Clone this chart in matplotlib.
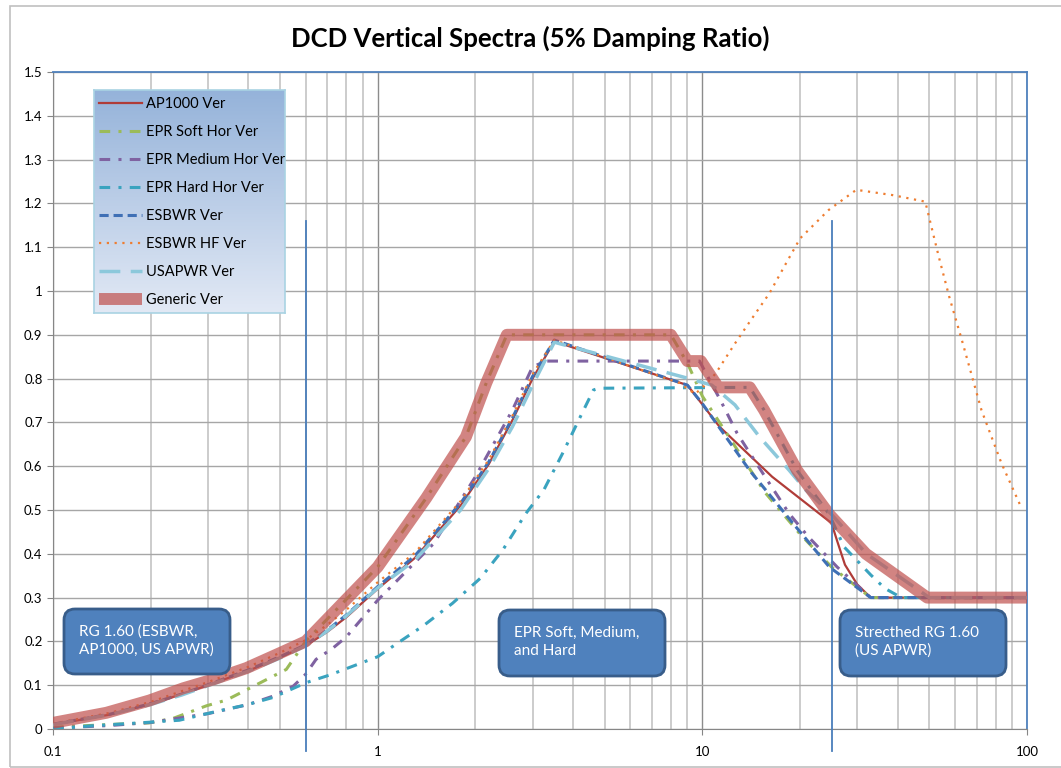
import numpy as np
import matplotlib
matplotlib.use("Agg")
import matplotlib.pyplot as plt
from matplotlib.patches import FancyBboxPatch, Rectangle
from matplotlib.ticker import FixedLocator, FixedFormatter, NullFormatter

plt.rcParams['font.family'] = ['Lato', 'DejaVu Sans']

# ---------------- data ----------------
ap_f = [0.1, 0.15, 0.2, 0.25, 0.3, 0.4, 0.5, 0.6, 0.7, 0.8, 1.0, 1.3, 1.8, 2.2, 2.6, 3.0, 3.5,
        9.0, 11.3, 16.4, 25.0, 26.0, 27.5, 30.0, 33.0, 100]
ap_v = [0.01, 0.033, 0.057, 0.08, 0.1, 0.133, 0.163, 0.19, 0.222, 0.255, 0.32, 0.39, 0.51, 0.605,
        0.705, 0.8, 0.885, 0.785, 0.69, 0.576, 0.47, 0.43, 0.375, 0.33, 0.3, 0.3]

soft_f = [0.1, 0.157, 0.198, 0.234, 0.297, 0.342, 0.413, 0.523, 0.6, 1.0, 1.41, 1.87, 2.16, 2.5,
          8.0, 9.0, 10.0, 12.0, 15.6, 20.0, 25.0, 33.0, 100]
soft_v = [0.004, 0.011, 0.014, 0.024, 0.053, 0.066, 0.097, 0.136, 0.2, 0.37, 0.527, 0.667, 0.79,
          0.9, 0.9, 0.835, 0.76, 0.67, 0.54, 0.445, 0.37, 0.3, 0.3]

med_f = [0.1, 0.15, 0.2, 0.3, 0.4, 0.476, 0.55, 0.6, 0.646, 0.726, 0.8, 1.0, 1.49, 2.0, 2.6, 3.0,
         3.3, 9.8, 11.4, 12.8, 15.6, 18.5, 21.2, 26.0, 33.0, 100]
med_v = [0.002, 0.008, 0.015, 0.035, 0.056, 0.075, 0.098, 0.125, 0.159, 0.184, 0.21, 0.294, 0.424,
         0.576, 0.728, 0.827, 0.84, 0.84, 0.749, 0.675, 0.576, 0.492, 0.439, 0.37, 0.3, 0.3]

hard_f = [0.1, 0.13, 0.185, 0.245, 0.318, 0.394, 0.476, 0.603, 0.71, 1.0, 1.12, 1.39, 1.70, 2.07,
          2.43, 2.86, 3.25, 3.71, 4.21, 4.62, 4.8, 14.0, 15.5, 19.6, 24.6, 27.3, 33.0, 36.5, 41.0, 100]
hard_v = [0.0, 0.007, 0.014, 0.02, 0.04, 0.055, 0.072, 0.106, 0.123, 0.165, 0.19, 0.237, 0.287,
          0.344, 0.409, 0.492, 0.546, 0.629, 0.713, 0.774, 0.778, 0.78, 0.728, 0.59, 0.49, 0.416,
          0.352, 0.321, 0.3, 0.3]

esbwr_f = [0.1, 0.15, 0.2, 0.25, 0.3, 0.4, 0.5, 0.6, 0.7, 0.8, 1.0, 1.3, 1.8, 2.2, 2.6, 3.0, 3.5,
           9.0, 10.0, 14.0, 19.0, 24.6, 33.0, 100]
esbwr_v = [0.011, 0.034, 0.058, 0.08, 0.101, 0.135, 0.165, 0.192, 0.226, 0.26, 0.325, 0.395, 0.515,
           0.61, 0.71, 0.805, 0.888, 0.785, 0.743, 0.59, 0.47, 0.37, 0.3, 0.3]

hf_f = [0.1, 0.15, 0.2, 0.3, 0.4, 0.5, 0.6, 0.7, 0.8, 1.0, 1.3, 1.8, 2.2, 2.6, 3.0, 3.5, 8.5, 9.5,
        10.2, 11.0, 12.6, 14.0, 16.1, 18.1, 20.0, 24.5, 29.8, 38.5, 48.6, 53.5, 57.6, 63.0, 72.4,
        83.4, 95.7]
hf_v = [0.012, 0.037, 0.062, 0.107, 0.142, 0.174, 0.203, 0.238, 0.272, 0.335, 0.402, 0.52, 0.615,
        0.715, 0.81, 0.888, 0.79, 0.765, 0.785, 0.812, 0.88, 0.93, 0.995, 1.063, 1.12, 1.185, 1.231,
        1.219, 1.204, 1.078, 0.987, 0.888, 0.728, 0.607, 0.508]

us_f = [0.1, 0.15, 0.2, 0.25, 0.3, 0.4, 0.5, 0.6, 0.7, 0.8, 1.0, 1.3, 1.8, 2.2, 2.6, 3.0, 3.5,
        9.1, 10.7, 12.6, 15.0, 18.5, 20.8, 25.0, 32.0, 50.0, 100]
us_v = [0.01, 0.033, 0.056, 0.078, 0.099, 0.132, 0.162, 0.19, 0.224, 0.258, 0.322, 0.385, 0.5,
        0.595, 0.69, 0.785, 0.883, 0.80, 0.785, 0.74, 0.667, 0.591, 0.546, 0.49, 0.40, 0.3, 0.3]

gen_f = [0.1, 0.146, 0.198, 0.252, 0.311, 0.394, 0.499, 0.6, 1.0, 1.41, 1.87, 2.16, 2.5, 8.0, 9.0,
         9.9, 11.2, 14.0, 15.5, 19.6, 24.6, 31.9, 49.3, 100]
gen_v = [0.014, 0.037, 0.065, 0.093, 0.113, 0.139, 0.173, 0.2, 0.37, 0.527, 0.667, 0.79, 0.9, 0.9,
         0.84, 0.84, 0.78, 0.78, 0.728, 0.59, 0.49, 0.40, 0.3, 0.3]

marker_freqs = [0.6, 25.0]
marker_span = [-0.05, 1.16]

labels = ["AP1000 Ver", "EPR Soft Hor Ver", "EPR Medium Hor Ver", "EPR Hard Hor Ver",
          "ESBWR Ver", "ESBWR HF Ver", "USAPWR Ver", "Generic Ver"]

y_ticks = [0, 0.1, 0.2, 0.3, 0.4, 0.5, 0.6, 0.7, 0.8, 0.9, 1.0, 1.1, 1.2, 1.3, 1.4, 1.5]
y_labels = ["0", "0.1", "0.2", "0.3", "0.4", "0.5", "0.6", "0.7", "0.8", "0.9", "1", "1.1",
            "1.2", "1.3", "1.4", "1.5"]
x_ticks = [0.1, 1, 10, 100]
x_labels = ["0.1", "1", "10", "100"]

title = "DCD Vertical Spectra (5% Damping Ratio)"
box_texts = ["RG 1.60 (ESBWR,\nAP1000, US APWR)", "EPR Soft, Medium,\nand Hard",
             "Strecthed RG 1.60\n(US APWR)"]

# ---------------- figure ----------------
W, H = 1061, 768
fig = plt.figure(figsize=(W / 100, H / 100), dpi=100)

def fx(px):
    return px / W

def fy(py):
    return 1 - py / H

# outer chart border
fig.patches.append(Rectangle((fx(10), fy(767)), fx(1100) - fx(10), fy(6) - fy(767),
                             transform=fig.transFigure, fill=False, edgecolor='#c0c0c0',
                             lw=1.2, clip_on=False))

ax = fig.add_axes([fx(53), fy(729), fx(1027) - fx(53), fy(72) - fy(729)])
ax.set_xscale('log')
ax.set_xlim(0.1, 100)
ax.set_ylim(0, 1.5)

# grid
ax.grid(which='minor', axis='x', color='#c8c8c8', lw=1.3, zorder=0)
ax.grid(which='major', axis='x', color='#8c8c8c', lw=1.0, zorder=0)
ax.grid(which='major', axis='y', color='#a6a6a6', lw=1.0, zorder=0)
ax.set_axisbelow(True)

ax.yaxis.set_major_locator(FixedLocator(y_ticks))
ax.yaxis.set_major_formatter(FixedFormatter(y_labels))
ax.xaxis.set_major_locator(FixedLocator(x_ticks))
ax.xaxis.set_major_formatter(FixedFormatter(x_labels))
ax.xaxis.set_minor_formatter(NullFormatter())
ax.tick_params(axis='both', which='major', labelsize=9.5, direction='out', length=4,
               color='#868686', labelcolor='#000000')
ax.tick_params(axis='x', which='major', pad=8)
ax.tick_params(axis='x', which='minor', length=0)

for s in ['left', 'bottom']:
    ax.spines[s].set_color('#868686')
for s in ['top', 'right']:
    ax.spines[s].set_color('#4F81BD')
    ax.spines[s].set_linewidth(1.3)

# series
l_ap, = ax.plot(ap_f, ap_v, color='#B03C38', lw=1.6, label=labels[0], zorder=3)
l_so, = ax.plot(soft_f, soft_v, color='#9BBB59', lw=2.2, dashes=(3.5, 2.7, 1, 2.7),
                label=labels[1], zorder=3)
l_me, = ax.plot(med_f, med_v, color='#7F62A1', lw=2.2, dashes=(3.5, 2.7, 1, 2.7),
                label=labels[2], zorder=3)
l_ha, = ax.plot(hard_f, hard_v, color='#3AA3BF', lw=2.2, dashes=(3.5, 2.7, 1, 2.7),
                label=labels[3], zorder=3)
l_es, = ax.plot(esbwr_f, esbwr_v, color='#3F70B5', lw=2.2, dashes=(3, 1.6),
                label=labels[4], zorder=3)
l_hf, = ax.plot(hf_f, hf_v, color='#EE7D31', lw=1.6, dashes=(1, 2.5),
                label=labels[5], zorder=3)
l_us, = ax.plot(us_f, us_v, color='#8CC8DB', lw=2.5, dashes=(6, 3),
                label=labels[6], zorder=3)
l_ge, = ax.plot(gen_f, gen_v, color='#C0504D', alpha=0.7, lw=8.6, solid_capstyle='butt',
                solid_joinstyle='round', label=labels[7], zorder=4)

# vertical region markers
for f in marker_freqs:
    ax.plot([f, f], marker_span, color='#4A7EBB', lw=1.3, clip_on=False, zorder=5)

# title
fig.text(fx(530), fy(38), title, ha='center', va='center', fontsize=18.5, fontweight='bold')

# annotation boxes (pixel coordinates)
boxes = [(64, 609, 230, 674), (499, 610, 665, 676), (840, 610, 1006, 676)]
for (x0, y0, x1, y1), txt in zip(boxes, box_texts):
    p = FancyBboxPatch((x0 / 100, (H - y1) / 100), (x1 - x0) / 100, (y1 - y0) / 100,
                       boxstyle="round,pad=0,rounding_size=0.11",
                       transform=fig.dpi_scale_trans, facecolor='#4F81BD',
                       edgecolor='#385D8A', lw=2, zorder=6)
    fig.patches.append(p)
    fig.text(fx(x0 + 15), fy((y0 + y1) / 2 - 1), txt, ha='left', va='center', color='white',
             fontsize=11, linespacing=1.35, zorder=7)

# legend with gradient background
lx0, ly0, lx1, ly1 = 94, 90, 285, 313
lax = fig.add_axes([fx(lx0), fy(ly1), fx(lx1) - fx(lx0), fy(ly0) - fy(ly1)], zorder=2)
top = np.array([149, 179, 218]) / 255
bot = np.array([226, 233, 245]) / 255
t = np.linspace(0, 1, 256)[:, None]
grad = (top[None, :] * (1 - t) + bot[None, :] * t)[:, None, :]
lax.imshow(grad, aspect='auto', extent=[0, 1, 0, 1], origin='upper')
lax.set_xticks([])
lax.set_yticks([])
for s in lax.spines.values():
    s.set_color('#a9d3e3')
    s.set_linewidth(1.2)

handles = [l_ap, l_so, l_me, l_ha, l_es, l_hf, l_us, l_ge]
leg = fig.legend(handles, labels, loc='upper left',
                 bbox_to_anchor=(fx(lx0 + 2), fy(ly0 + 4)), frameon=False,
                 fontsize=10.5, handlelength=2.95, handletextpad=0.25,
                 labelspacing=0.96, borderaxespad=0, borderpad=0.2)
leg.set_zorder(10)

fig.savefig("out.png", dpi=100)
